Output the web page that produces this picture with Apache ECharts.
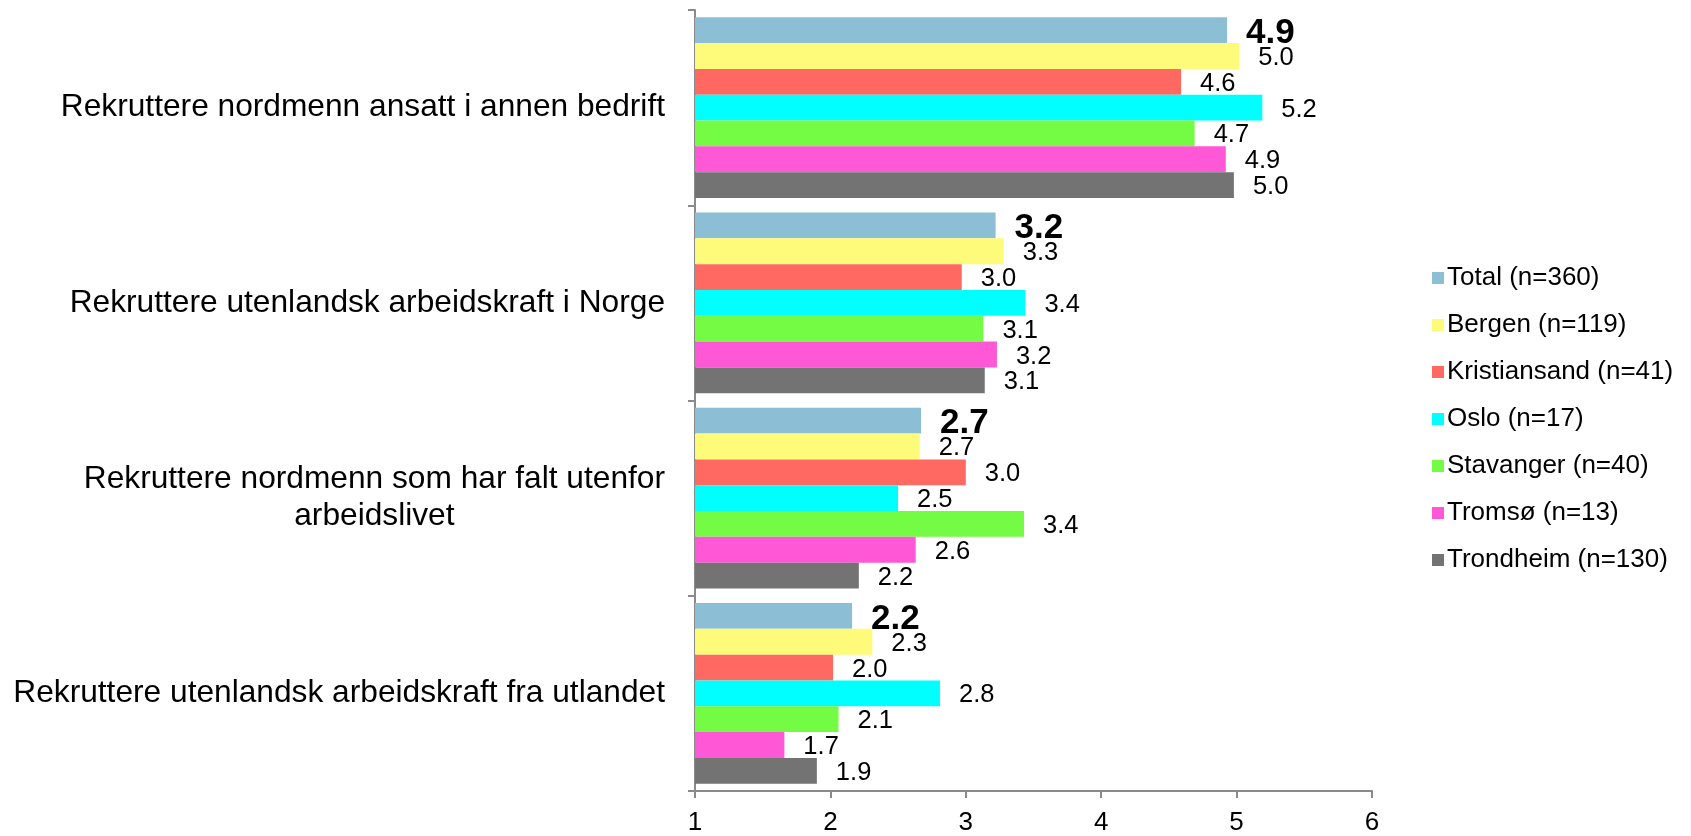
<!DOCTYPE html>
<html>
<head>
<meta charset="utf-8">
<script src="https://cdn.jsdelivr.net/npm/echarts@6/dist/echarts.min.js"></script>
<style>
  html, body { margin: 0; padding: 0; background: #fff; }
  #chart { width: 1691px; height: 836px; }
</style>
</head>
<body>
<div id="chart"></div>
<script>
const categories = [
  'Rekruttere nordmenn ansatt i annen bedrift',
  'Rekruttere utenlandsk arbeidskraft i Norge',
  'Rekruttere nordmenn som har falt utenfor\narbeidslivet',
  'Rekruttere utenlandsk arbeidskraft fra utlandet'
];
const seriesNames = ['Total (n=360)', 'Bergen (n=119)', 'Kristiansand (n=41)', 'Oslo (n=17)', 'Stavanger (n=40)', 'Tromsø (n=13)', 'Trondheim (n=130)'];
const totalValues        = [4.93, 3.22, 2.67, 2.16];
const bergenValues       = [5.02, 3.28, 2.66, 2.31];
const kristiansandValues = [4.59, 2.97, 3.00, 2.02];
const osloValues         = [5.19, 3.44, 2.50, 2.81];
const stavangerValues    = [4.69, 3.13, 3.43, 2.06];
const tromsoValues       = [4.92, 3.23, 2.63, 1.66];
const trondheimValues    = [4.98, 3.14, 2.21, 1.90];
const xTicks = [1, 2, 3, 4, 5, 6];

const colors = ['#8CBED5', '#FFFB7A', '#FF6961', '#00FFFF', '#74FC45', '#FF58D6', '#737373'];
const allValues = [totalValues, bergenValues, kristiansandValues, osloValues, stavangerValues, tromsoValues, trondheimValues];
const FONT = '"Liberation Sans", Arial, Helvetica, sans-serif';

const series = seriesNames.map((name, i) => ({
  name: name,
  type: 'bar',
  data: allValues[i],
  barGap: '0%',
  barCategoryGap: '7.4%',
  itemStyle: { color: colors[i] },
  label: {
    show: true,
    position: 'right',
    distance: 19,
    offset: [0, i === 0 ? 3 : 2],
    color: '#000',
    fontFamily: FONT,
    fontSize: i === 0 ? 35 : 25.5,
    fontWeight: i === 0 ? 'bold' : 'normal',
    formatter: p => p.value.toFixed(1)
  }
}));

const chart = echarts.init(document.getElementById('chart'), null, { renderer: 'canvas' });
chart.setOption({
  animation: false,
  backgroundColor: '#fff',
  textStyle: { fontFamily: FONT },
  grid: { left: 695, right: 319, top: 10, bottom: 44, containLabel: false },
  legend: {
    orient: 'vertical',
    left: 1427,
    top: 260,
    itemWidth: 12,
    itemHeight: 12,
    itemGap: 21,
    icon: 'rect',
    data: seriesNames,
    textStyle: { fontFamily: FONT, fontSize: 26, color: '#000', lineHeight: 26, padding: [0, 0, 0, -2] }
  },
  xAxis: {
    type: 'value',
    min: xTicks[0],
    max: xTicks[xTicks.length - 1],
    interval: 1,
    axisLine: { show: true, lineStyle: { color: '#8a8a8a', width: 2 } },
    axisTick: { show: true, length: 7, lineStyle: { color: '#8a8a8a', width: 2 } },
    splitLine: { show: false },
    axisLabel: { color: '#000', fontSize: 26, fontFamily: FONT, margin: 19 }
  },
  yAxis: {
    type: 'category',
    inverse: true,
    data: categories,
    axisLine: { show: true, lineStyle: { color: '#8a8a8a', width: 2 } },
    axisTick: { show: true, length: 7, lineStyle: { color: '#8a8a8a', width: 2 } },
    axisLabel: {
      color: '#000',
      fontFamily: FONT,
      fontSize: 31.7,
      margin: 30,
      formatter: v => v.split('\n').map(s => '{a|' + s + '}').join('\n'),
      rich: { a: { align: 'center', fontSize: 31.7, lineHeight: 37, fontFamily: FONT, color: '#000' } }
    }
  },
  series: series
});
</script>
</body>
</html>
